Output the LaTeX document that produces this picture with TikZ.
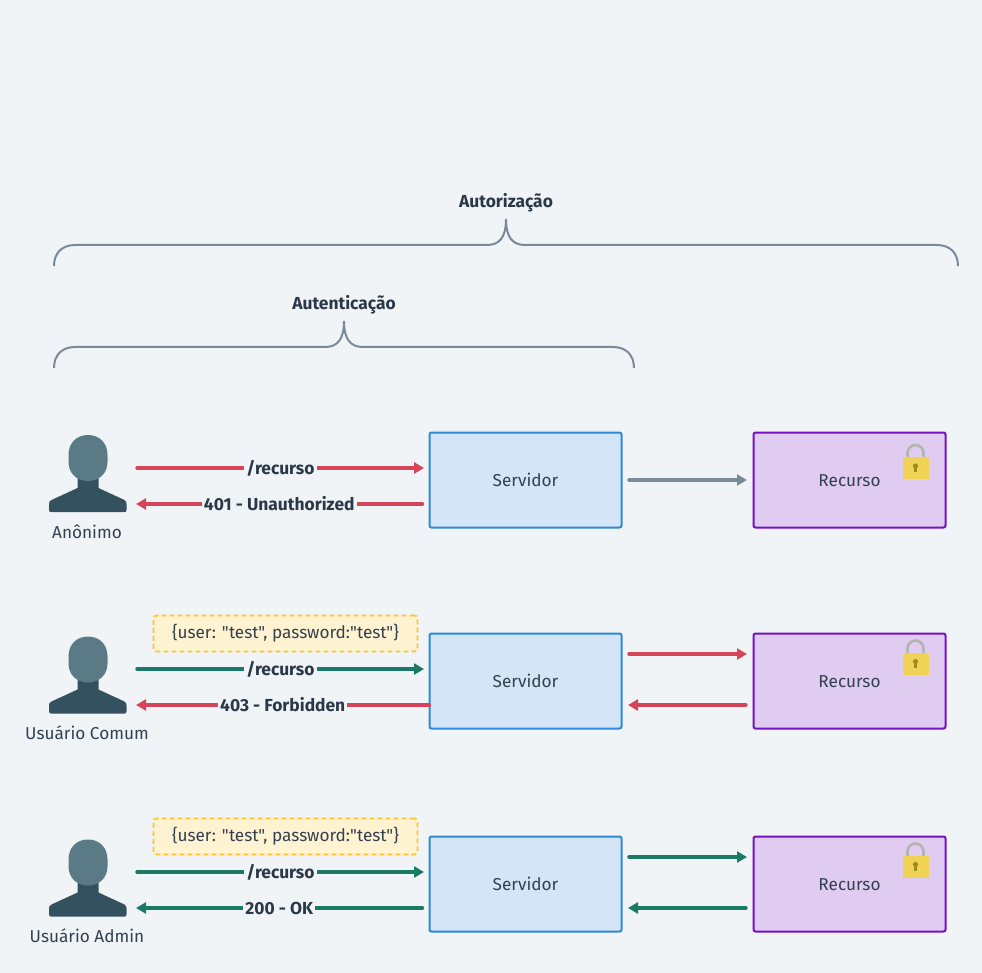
\documentclass[tikz,border=0pt]{standalone}
\usepackage{fontspec}
\setmainfont{Fira Sans}
\newfontfamily\plainfont{Fira Sans}
\usetikzlibrary{arrows.meta}
\definecolor{bgc}{HTML}{F0F4F7}
\definecolor{redc}{HTML}{D64459}
\definecolor{greenc}{HTML}{1B7A66}
\definecolor{grayc}{HTML}{7B8A9A}
\definecolor{textc}{HTML}{33404F}
\definecolor{boldc}{HTML}{2A3847}
\definecolor{srvf}{HTML}{D3E5F7}
\definecolor{srvd}{HTML}{2D8AD6}
\definecolor{resf}{HTML}{E1CCF1}
\definecolor{resd}{HTML}{7511C4}
\definecolor{notef}{HTML}{FFF3D1}
\definecolor{noted}{HTML}{FBC531}
\definecolor{headc}{HTML}{5A7A85}
\definecolor{bodyc}{HTML}{33515F}
\definecolor{lockc}{HTML}{F0D255}
\definecolor{shackc}{HTML}{B4B4B0}
\definecolor{holec}{HTML}{A38A1E}
\tikzset{
  x=1pt,y=-1pt,
  txt/.style={font=\fontsize{17.2}{20}\selectfont,text=textc,inner sep=0pt},
  lab/.style={font=\fontsize{17.4}{20}\selectfont\bfseries,text=boldc,fill=bgc,inner xsep=2pt,inner ysep=1pt},
  title/.style={font=\fontsize{17.4}{20}\selectfont\bfseries,text=boldc,inner sep=0pt},
  srv/.style={draw=srvd,fill=srvf,line width=2pt,rounded corners=2pt,minimum width=192pt,minimum height=95pt,txt,text height=16pt,text depth=3pt},
  res/.style={draw=resd,fill=resf,line width=2pt,rounded corners=2pt,minimum width=192pt,minimum height=95pt,txt,text height=16pt,text depth=3pt},
  note/.style={draw=noted,fill=notef,line width=1.8pt,dash pattern=on 5pt off 3pt,rounded corners=3pt,minimum width=264pt,minimum height=36pt,txt},
  conn/.style={line width=3.4pt,line cap=round,-{Triangle[length=10pt,width=11pt]}},
  brace/.style={draw=grayc,line width=2pt},
  person/.pic={
    \fill[bodyc] (-10,52) -- (-10,53) -- (-36,65) .. controls (-38,66) and (-38.5,67) .. (-38.5,69) -- (-38.5,75) .. controls (-38.5,77) and (-37,77) .. (-36,77) -- (37,77) .. controls (38,77) and (39,77) .. (39,75) -- (39,69) .. controls (39,67) and (38.5,66) .. (37,65) -- (11,53) -- (11,32) -- (-10,32) -- cycle;
    \fill[headc] (0.5,0) .. controls (12,0) and (20,8) .. (20,20) -- (20,27) .. controls (20,38) and (12,46) .. (0.5,46) .. controls (-11,46) and (-19,38) .. (-19,27) -- (-19,20) .. controls (-19,8) and (-11,0) .. (0.5,0) -- cycle;
  },
  lockpic/.pic={
    \draw[shackc,line width=2.6pt] (-8,14) -- (-8,8) arc[start angle=180,end angle=360,radius=8] -- (8,14);
    \fill[lockc] (-13,12) rectangle (13,34);
    \fill[holec] (0,21) circle (2.6);
    \fill[holec] (-1.2,21) rectangle (1.2,27);
  }
}
\begin{document}
\begin{tikzpicture}
\useasboundingbox (0,0) rectangle (982,973);
\fill[bgc] (0,0) rectangle (982,973);

% braces
\node[title] (tAutz) at (506,203) {Autorização};
\node[title] (tAutn) at (344,305) {Autenticação};
\draw[brace] (54,266) .. controls (54,253) and (62,245) .. (75,245) -- (487,245) .. controls (499,245) and (506,238) .. (506,219) .. controls (506,238) and (513,245) .. (525,245) -- (937,245) .. controls (950,245) and (958,253) .. (958,266);
\draw[brace] (54,368) .. controls (54,355) and (62,347) .. (75,347) -- (325,347) .. controls (337,347) and (344,340) .. (344,321) .. controls (344,340) and (351,347) .. (363,347) -- (613,347) .. controls (626,347) and (634,355) .. (634,368);

% people
\pic at (87.5,435) {person};
\pic at (87.5,636.5) {person};
\pic at (87.5,839.5) {person};
\node[txt] (p1) at (87,532) {Anônimo};
\node[txt] (p2) at (87,733) {Usuário Comum};
\node[txt] (p3) at (87,936) {Usuário Admin};

% boxes
\node[srv] (s1) at (525.5,480) {Servidor};
\node[srv] (s2) at (525.5,681) {Servidor};
\node[srv] (s3) at (525.5,884) {Servidor};
\node[res] (r1) at (849.5,480) {Recurso};
\node[res] (r2) at (849.5,681) {Recurso};
\node[res] (r3) at (849.5,884) {Recurso};
\pic at (915.5,445) {lockpic};
\pic at (915.5,640.5) {lockpic};
\pic at (915.5,843.5) {lockpic};

% notes
\node[note] (n2) at (285.5,633.5) {\plainfont\{user: "test", password:"test"\}};
\node[note] (n3) at (285.5,836.5) {\plainfont\{user: "test", password:"test"\}};

% free ends
\coordinate (a1) at (137,468); \coordinate (b1) at (424,468);
\coordinate (c1) at (422.5,504); \coordinate (d1) at (136,504);
\coordinate (a2) at (137,669); \coordinate (b2) at (424,669);
\coordinate (c2) at (429.5,705); \coordinate (d2) at (136,705);
\coordinate (a3) at (137,872); \coordinate (b3) at (424,872);
\coordinate (c3) at (422.5,908); \coordinate (d3) at (136,908);
\coordinate (e1) at (629,480); \coordinate (f1) at (747,480);
\coordinate (e2) at (629,654); \coordinate (f2) at (747,654);
\coordinate (g2) at (746,705); \coordinate (h2) at (628,705);
\coordinate (e3) at (629,857); \coordinate (f3) at (747,857);
\coordinate (g3) at (746,908); \coordinate (h3) at (628,908);

\draw[conn,redc] (a1) -- node[lab] {/recurso} (b1);
\draw[conn,redc] (c1) -- node[lab,pos=0.5] {401 - Unauthorized} (d1);
\draw[conn,grayc] (e1) -- (f1);

\draw[conn,greenc] (a2) -- node[lab] {/recurso} (b2);
\draw[conn,redc] (c2) -- node[lab,pos=0.5] {403 - Forbidden} (d2);
\draw[conn,redc] (e2) -- (f2);
\draw[conn,redc] (g2) -- (h2);

\draw[conn,greenc] (a3) -- node[lab] {/recurso} (b3);
\draw[conn,greenc] (c3) -- node[lab,pos=0.5] {200 - OK} (d3);
\draw[conn,greenc] (e3) -- (f3);
\draw[conn,greenc] (g3) -- (h3);
\end{tikzpicture}
\end{document}
